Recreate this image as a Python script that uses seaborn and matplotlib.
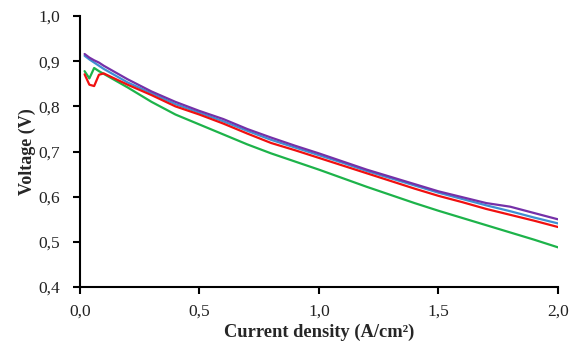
import numpy as np
import pandas as pd
import matplotlib
matplotlib.use("Agg")
import matplotlib.pyplot as plt
import seaborn as sns
from matplotlib.ticker import FuncFormatter

current = [0.02, 0.04, 0.06, 0.08, 0.10, 0.20, 0.30, 0.40, 0.50, 0.60, 0.70, 0.80,
           0.90, 1.00, 1.10, 1.20, 1.30, 1.40, 1.50, 1.60, 1.70, 1.80, 1.90, 2.00]

v_blue = [0.912, 0.904, 0.897, 0.890, 0.883, 0.853, 0.829, 0.805, 0.786, 0.767, 0.746, 0.726,
          0.709, 0.692, 0.675, 0.657, 0.641, 0.625, 0.609, 0.595, 0.581, 0.568, 0.554, 0.541]
v_green = [0.878, 0.862, 0.885, 0.878, 0.872, 0.842, 0.810, 0.782, 0.760, 0.738, 0.716, 0.696,
           0.678, 0.660, 0.641, 0.622, 0.604, 0.586, 0.569, 0.553, 0.537, 0.521, 0.505, 0.488]
v_red = [0.871, 0.848, 0.845, 0.870, 0.873, 0.848, 0.825, 0.800, 0.782, 0.762, 0.740, 0.719,
         0.703, 0.686, 0.669, 0.652, 0.635, 0.618, 0.602, 0.588, 0.573, 0.560, 0.547, 0.533]
v_purple = [0.916, 0.908, 0.902, 0.897, 0.890, 0.860, 0.833, 0.810, 0.790, 0.772, 0.750, 0.731,
            0.713, 0.696, 0.678, 0.660, 0.644, 0.628, 0.612, 0.599, 0.586, 0.578, 0.564, 0.550]

series = {"blue": v_blue, "green": v_green, "red": v_red, "purple": v_purple}
colors = {"blue": "#3f8fd2", "green": "#1db34a", "red": "#f01010", "purple": "#7530a8"}

df = pd.concat(
    [pd.DataFrame({"x": current, "v": vals, "s": name}) for name, vals in series.items()],
    ignore_index=True,
)

sns.set_style("white")
plt.rcParams["font.family"] = ["Liberation Serif", "DejaVu Serif"]

fig = plt.figure(figsize=(5.7, 3.41), dpi=100)
ax = fig.add_axes([0.140, 0.158, 0.839, 0.795])

sns.lineplot(data=df, x="x", y="v", hue="s", palette=colors, linewidth=1.6,
             legend=False, ax=ax, sort=False)

ax.set_xlim(0, 2.0)
ax.set_ylim(0.4, 1.0)
ax.set_xticks(np.arange(0, 2.01, 0.5))
ax.set_yticks(np.arange(0.4, 1.001, 0.1))
comma = FuncFormatter(lambda v, p: f"{v:.1f}".replace(".", ","))
ax.xaxis.set_major_formatter(comma)
ax.yaxis.set_major_formatter(comma)

for side in ("top", "right"):
    ax.spines[side].set_visible(False)
for side in ("left", "bottom"):
    ax.spines[side].set_color("black")
    ax.spines[side].set_linewidth(1.5)

ax.tick_params(axis="both", direction="out", length=5, width=1.5, color="black",
               labelsize=12.5, labelcolor="#222222")
ax.tick_params(axis="y", left=True, pad=9)
ax.tick_params(axis="x", bottom=True, pad=7)

ax.set_xlabel("Current density (A/cm²)", fontsize=13.3, fontweight="bold", labelpad=3)
ax.set_ylabel("Voltage (V)", fontsize=13, fontweight="bold", labelpad=2)

fig.savefig("out.png", dpi=100)
